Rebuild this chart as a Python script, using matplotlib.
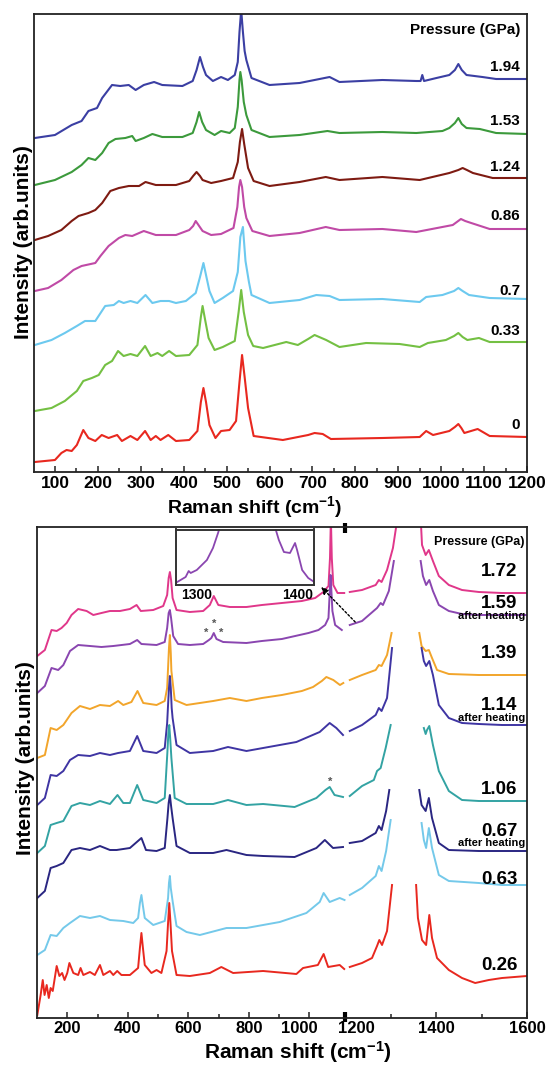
import numpy as np
import matplotlib
matplotlib.use("Agg")
import matplotlib.pyplot as plt
from matplotlib.ticker import FixedLocator
import matplotlib.transforms as mtrans

plt.rcParams['font.family'] = ['Liberation Sans', 'DejaVu Sans']
plt.rcParams['font.weight'] = 'bold'
plt.rcParams['axes.labelweight'] = 'bold'
plt.rcParams['mathtext.fontset'] = 'custom'
plt.rcParams['mathtext.rm'] = 'Liberation Sans:bold'
plt.rcParams['mathtext.bf'] = 'Liberation Sans:bold'
plt.rcParams['mathtext.it'] = 'Liberation Sans:bold'
plt.rcParams['mathtext.default'] = 'bf'

# ---------------- top panel data: (Raman shift, intensity) ----------------
top_194 = [(53,334),(100,337),(139,347),(162,351),(178,361),(198,364),(210,374),(233,387),(252,386),(272,387),(288,382),(307,387),(331,390),(350,387),(397,386),(421,391),(430,402),(438,415),(445,405),(452,397),(468,391),(487,395),(503,392),(519,397),(526,410),(530,440),(534,462),(538,440),(542,421),(546,412),(558,394),(600,387),(670,389),(740,395),(763,390),(863,392),(942,391),(952,391),(956,397),(960,391),(989,394),(1019,397),(1032,402),(1040,408),(1048,402),(1059,397),(1096,395),(1128,393),(1200,393)]
top_153 = [(53,287),(100,292),(139,300),(162,307),(178,314),(194,312),(210,319),(225,329),(241,333),(264,334),(280,336),(288,331),(307,334),(327,338),(350,335),(397,335),(421,339),(430,350),(436,360),(443,350),(452,342),(472,337),(487,341),(507,339),(519,344),(526,365),(530,392),(532,400),(535,392),(540,370),(546,357),(558,342),(600,335),(670,337),(735,341),(763,339),(863,340),(942,339),(1003,341),(1019,344),(1032,349),(1040,354),(1048,348),(1059,344),(1090,343),(1128,339),(1200,338)]
top_124 = [(53,232),(84,236),(115,242),(139,251),(155,256),(178,259),(194,262),(210,269),(229,281),(249,284),(272,286),(296,286),(311,290),(335,287),(382,287),(413,291),(422,296),(430,300),(438,296),(444,292),(464,289),(487,291),(515,294),(526,310),(531,330),(536,343),(541,328),(550,304),(563,291),(600,286),(670,290),(731,295),(763,292),(863,295),(950,292),(1019,299),(1040,302),(1050,304),(1060,302),(1074,299),(1120,294),(1200,294)]
top_086 = [(53,181),(84,184),(115,192),(143,202),(162,206),(194,209),(206,216),(225,226),(249,234),(264,237),(280,236),(307,241),(335,237),(382,237),(413,242),(422,246),(428,251),(436,246),(444,241),(464,237),(487,238),(516,244),(525,265),(529,285),(532,292),(536,285),(541,265),(546,254),(560,241),(600,236),(670,239),(731,245),(763,242),(863,243),(942,240),(1027,247),(1046,253),(1056,251),(1070,249),(1113,243),(1200,243)]
top_070 = [(53,127),(92,132),(123,139),(151,146),(170,151),(194,151),(217,166),(237,167),(249,171),(260,169),(276,171),(292,169),(311,177),(327,169),(346,171),(366,171),(382,169),(405,171),(428,179),(438,195),(446,209),(453,195),(460,181),(472,169),(491,174),(515,181),(526,200),(532,235),(538,245),(544,211),(552,190),(558,177),(600,169),(670,172),(709,177),(740,176),(763,172),(863,173),(950,170),(965,175),(1003,177),(1030,181),(1040,184),(1050,181),(1065,177),(1113,174),(1200,173)]
top_033 = [(53,61),(92,64),(123,71),(151,81),(166,91),(186,94),(202,97),(217,107),(233,111),(247,121),(260,116),(276,118),(292,116),(310,126),(323,116),(339,119),(350,116),(366,121),(382,116),(413,117),(432,127),(440,155),(444,166),(450,152),(458,134),(472,122),(491,125),(519,131),(528,160),(534,182),(540,160),(550,137),(562,126),(585,124),(639,130),(666,127),(690,133),(705,137),(732,132),(763,125),(825,129),(903,128),(950,125),(969,129),(1011,132),(1030,136),(1040,139),(1050,135),(1061,132),(1088,134),(1113,130),(1200,130)]
top_000 = [(53,10),(100,12),(115,19),(127,22),(139,21),(151,27),(166,42),(178,34),(194,31),(209,37),(225,34),(245,37),(256,31),(276,36),(292,32),(310,41),(323,32),(335,36),(346,32),(364,37),(382,31),(413,32),(432,41),(440,70),(446,84),(452,70),(460,47),(474,34),(487,41),(507,42),(522,51),(530,90),(536,117),(542,95),(550,64),(563,36),(631,32),(690,37),(705,39),(724,38),(743,33),(863,34),(950,35),(965,41),(981,37),(1019,41),(1032,45),(1040,48),(1047,44),(1054,39),(1085,43),(1113,36),(1200,35)]

top_series = [top_194, top_153, top_124, top_086, top_070, top_033, top_000]
top_labels = ['1.94', '1.53', '1.24', '0.86', '0.7', '0.33', '0']
top_label_y = [405, 351, 305, 256, 181, 141, 47]
top_colors = ['#3b3fa3', '#3c9a3c', '#7e1b12', '#c04aa6', '#6cc9ef', '#74c043', '#e8281f']
top_ticks = [100, 200, 300, 400, 500, 600, 700, 800, 900, 1000, 1100, 1200]

# ---------------- bottom panel data ----------------
bot_172 = [(101,362),(126,368),(148,388),(165,387),(181,390),(198,395),(214,403),(236,409),(264,407),(286,403),(313,405),(341,407),(374,407),(407,409),(429,413),(443,407),(484,408),(517,412),(530,423),(535,440),(539,446),(543,438),(548,420),(561,408),(605,406),(649,407),(671,413),(684,422),(699,413),(737,411),(792,411),(843,413),(909,415),(975,417),(1019,420),(1046,426),(1063,432),(1068,460),(1071,500),(1074,460),(1079,433),(1093,425),(1115,425),(1210,426),(1237,428),(1267,433),(1274,438),(1280,436),(1292,448),(1305,470),(1315,500),(1366,500),(1369,473),(1377,463),(1384,468),(1393,457),(1406,442),(1428,433),(1457,428),(1494,426),(1545,425),(1600,425)]
bot_159 = [(101,325),(126,332),(148,350),(170,348),(187,353),(209,367),(236,373),(275,372),(313,371),(352,372),(407,374),(431,378),(445,374),(495,373),(522,376),(530,390),(535,405),(539,408),(543,400),(550,382),(566,374),(605,373),(649,374),(668,378),(676,380),(684,385),(693,379),(715,376),(792,375),(843,377),(909,379),(953,382),(997,385),(1030,388),(1052,393),(1063,400),(1067,425),(1070,443),(1073,425),(1076,407),(1085,393),(1107,388),(1210,393),(1237,397),(1270,410),(1278,415),(1283,413),(1296,427),(1307,457),(1366,457),(1371,442),(1378,433),(1385,438),(1393,427),(1406,413),(1428,407),(1457,404),(1494,403),(1545,403),(1600,403)]
bot_139 = [(101,260),(126,263),(145,290),(165,288),(187,293),(214,305),(242,312),(275,309),(308,313),(341,312),(368,317),(385,313),(412,316),(432,327),(451,315),(495,313),(522,317),(530,330),(533,350),(536,370),(539,383),(542,365),(544,347),(555,318),(594,313),(682,317),(737,320),(792,317),(843,320),(909,323),(975,327),(1012,331),(1041,337),(1056,341),(1079,338),(1101,333),(1112,335),(1210,338),(1237,343),(1267,348),(1274,353),(1280,352),(1292,363),(1302,385),(1363,385),(1368,372),(1377,367),(1384,368),(1391,360),(1402,348),(1428,344),(1494,343),(1545,343),(1600,343)]
bot_114 = [(101,213),(126,220),(145,243),(165,242),(187,247),(209,258),(236,263),(275,262),(308,265),(341,263),(368,265),(407,267),(431,282),(451,267),(495,265),(522,270),(530,295),(533,313),(536,330),(539,342),(542,330),(545,310),(548,300),(561,273),(605,265),(682,267),(731,271),(792,267),(847,270),(957,276),(1034,286),(1067,295),(1089,290),(1111,283),(1210,287),(1237,293),(1267,303),(1274,310),(1280,307),(1292,320),(1303,370),(1368,370),(1373,357),(1378,352),(1385,357),(1393,343),(1406,313),(1428,300),(1457,295),(1494,294),(1545,293),(1600,293)]
bot_106 = [(101,165),(126,172),(145,193),(165,195),(187,197),(214,212),(242,215),(275,213),(308,217),(341,214),(366,223),(385,215),(407,215),(431,233),(451,218),(495,215),(522,220),(531,267),(534,285),(537,293),(540,280),(544,260),(555,220),(594,214),(682,214),(731,218),(792,213),(847,214),(951,211),(1023,220),(1053,228),(1067,231),(1083,223),(1111,221),(1210,222),(1237,232),(1263,238),(1270,247),(1278,250),(1289,270),(1300,293),(1373,290),(1377,284),(1380,288),(1385,292),(1393,273),(1406,247),(1428,227),(1457,218),(1494,217),(1545,217),(1600,217)]
bot_067 = [(101,120),(126,127),(145,150),(165,152),(187,155),(214,168),(242,170),(275,168),(308,172),(341,168),(363,168),(407,170),(445,180),(460,168),(495,167),(522,170),(531,200),(535,215),(539,223),(543,212),(548,200),(561,172),(605,165),(682,165),(726,168),(792,163),(847,162),(951,161),(1023,170),(1051,178),(1078,170),(1111,171),(1210,175),(1237,177),(1267,185),(1274,192),(1280,188),(1290,207),(1297,228),(1363,228),(1368,213),(1377,207),(1384,220),(1391,200),(1406,175),(1428,168),(1494,167),(1545,167),(1600,167)]
bot_063 = [(101,63),(126,68),(145,83),(165,82),(187,90),(209,95),(242,102),(275,100),(308,102),(341,98),(385,97),(418,95),(434,100),(440,115),(445,123),(450,112),(456,100),(484,93),(522,97),(533,120),(536,135),(539,142),(542,130),(548,117),(561,92),(594,86),(638,83),(726,90),(792,90),(902,96),(990,105),(1034,116),(1047,125),(1067,116),(1100,120),(1116,118),(1210,123),(1237,130),(1267,142),(1274,152),(1280,147),(1290,167),(1300,198),(1368,195),(1373,178),(1378,170),(1384,190),(1391,170),(1406,143),(1428,137),(1494,135),(1545,133),(1600,133)]
bot_026 = [(101,3),(112,23),(119,38),(125,23),(132,33),(139,20),(145,30),(152,27),(165,52),(174,42),(183,45),(191,38),(200,45),(207,55),(220,45),(236,43),(244,50),(253,43),(275,46),(291,43),(308,53),(319,43),(341,47),(352,43),(365,47),(379,43),(407,43),(434,50),(440,70),(445,85),(450,70),(456,53),(478,45),(495,48),(511,45),(528,67),(533,95),(537,115),(541,95),(546,67),(561,43),(605,42),(671,45),(709,51),(748,45),(847,47),(957,44),(979,50),(1028,53),(1047,64),(1062,51),(1100,53),(1115,49),(1210,51),(1237,55),(1259,60),(1270,72),(1275,78),(1281,73),(1292,87),(1303,133),(1356,133),(1360,100),(1369,78),(1378,73),(1385,103),(1391,80),(1402,60),(1428,48),(1457,40),(1486,35),(1516,38),(1545,40),(1600,42)]

bot_series = [bot_172, bot_159, bot_139, bot_114, bot_106, bot_067, bot_063, bot_026]
bot_labels = ['1.72', '1.59', '1.39', '1.14', '1.06', '0.67', '0.63', '0.26']
bot_label_y = [446, 414, 364, 312, 229, 187, 138, 52]
bot_heated = [False, True, False, True, False, True, False, False]
bot_colors = ['#e0378a', '#8a46b0', '#f2a52b', '#3f35a3', '#33a3a3', '#2a2682', '#74c9ea', '#e8281f']
bot_major = [200, 400, 600, 800, 1000, 1200, 1400, 1600]
bot_minor = [300, 500, 700, 900, 1300, 1500]
bot_gaps = [(1116, 1205), (1316, 1355)]   # axis break and removed diamond line

inset_curve = [(1279,2),(1289,8),(1292,14),(1294,12),(1300,15),(1310,25),(1316,37),(1321,52),(1324,62),(1376,62),(1381,45),(1386,33),(1392,32),(1397,42),(1399,35),(1404,15),(1410,7),(1416,3)]
inset_ticks = [1300, 1400]

# ---------------- figure ----------------
W, H = 549, 1071
fig = plt.figure(figsize=(W / 100, H / 100), dpi=100)


def rect(l, t, r, b):
    return [l / W, 1 - b / H, (r - l) / W, (b - t) / H]


def style(ax, size):
    for s in ax.spines.values():
        s.set_linewidth(1.3)
        s.set_color('#222222')
    ax.set_yticks([])
    ax.tick_params(axis='x', which='both', direction='in', top=False, width=1.1,
                   labelsize=size, pad=3, color='#222222')
    ax.tick_params(axis='x', which='major', length=4)
    ax.tick_params(axis='x', which='minor', length=3)


# ---- top ----
ax1 = fig.add_axes(rect(33.5, 14, 527, 472))
for pts, c in zip(top_series, top_colors):
    x, y = zip(*pts)
    ax1.plot(x, y, color=c, lw=1.5, solid_joinstyle='round')
ax1.set_xlim(50, 1200)
ax1.set_ylim(0, 458)
style(ax1, 12.5)
ax1.set_xticks(top_ticks, [str(t) for t in top_ticks])
ax1.xaxis.set_minor_locator(FixedLocator([t + 50 for t in top_ticks[:-1]]))
for lab in ax1.get_xticklabels():
    lab.set_fontweight('bold')
ax1.set_xlabel(r'Raman shift (cm$^{-1}$)', fontsize=14, fontweight='bold')
ax1.xaxis.set_label_coords(0.449, -0.049)
tr1 = mtrans.blended_transform_factory(ax1.transAxes, ax1.transData)
ax1.text(0.986, 442, 'Pressure (GPa)', transform=tr1, ha='right', va='center', fontsize=11)
for lab, ly in zip(top_labels, top_label_y):
    ax1.text(0.986, ly, lab, transform=tr1, ha='right', va='center', fontsize=11)

# ---- bottom (broken x axis) ----
cm_knots = [0, 100, 1118, 1200, 1600, 3000]
u_knots = [-30.3, 0.0, 308.5, 308.6, 490.6, 1127.6]


def fwd(x):
    return np.interp(np.asarray(x, float), cm_knots, u_knots)


def inv(u):
    return np.interp(np.asarray(u, float), u_knots, cm_knots)


ax2 = fig.add_axes(rect(37, 527, 527, 1018))
ax2.set_xscale('function', functions=(fwd, inv))


def segments(pts):
    segs, cur = [], [pts[0]]
    for a, b in zip(pts[:-1], pts[1:]):
        if any(a[0] <= lo and b[0] >= hi for lo, hi in bot_gaps):
            segs.append(cur)
            cur = []
        cur.append(b)
    segs.append(cur)
    return segs


for pts, c in zip(bot_series, bot_colors):
    for seg in segments(pts):
        x, y = zip(*seg)
        ax2.plot(x, y, color=c, lw=1.4, solid_joinstyle='round')
ax2.set_xlim(100, 1600)
ax2.set_ylim(0, 491)
style(ax2, 12)
ax2.tick_params(axis='x', pad=2)
ax2.set_xticks(bot_major, [str(t) for t in bot_major])
ax2.xaxis.set_minor_locator(FixedLocator(bot_minor))
for lab in ax2.get_xticklabels():
    lab.set_fontweight('bold')
ax2.set_xlabel(r'Raman shift (cm$^{-1}$)', fontsize=15, fontweight='bold')
ax2.xaxis.set_label_coords(0.533, -0.043)

# nudge the two labels that sit next to the axis break
for tk in ax2.xaxis.get_major_ticks():
    dx = {1000: -10, 1200: 11}.get(int(round(tk.get_loc())), 0)
    if dx:
        tk.label1.set_transform(tk.label1.get_transform() +
                                mtrans.ScaledTranslation(dx / 100, 0, fig.dpi_scale_trans))

# break marks on the axis
trb = mtrans.blended_transform_factory(ax2.transData, ax2.transAxes)
for yy in ([0.988, 1.008], [-0.008, 0.012]):
    ax2.plot([1200, 1200], yy, transform=trb, color='black', lw=3, clip_on=False,
             solid_capstyle='butt')

tr2 = mtrans.blended_transform_factory(ax2.transAxes, ax2.transData)
ax2.text(0.994, 476, 'Pressure (GPa)', transform=tr2, ha='right', va='center', fontsize=9)
for lab, ly, hh in zip(bot_labels, bot_label_y, bot_heated):
    ax2.text(0.98, ly, lab, transform=tr2, ha='right', va='center', fontsize=13.5)
    if hh:
        ax2.text(0.997, ly - 12, 'after heating', transform=tr2, ha='right', va='center',
                 fontsize=8)

# asterisks
for sx, sy in [(660, 385), (684, 394), (709, 385), (1068, 236)]:
    ax2.text(sx, sy, '*', ha='center', va='center', fontsize=8, color='#555555')

# arrow from curve to the inset
ax2.annotate('', xy=(1039, 431), xytext=(1222, 396),
             arrowprops=dict(arrowstyle='-|>', color='black', lw=1.0, linestyle=(0, (1.5, 1.5)),
                             mutation_scale=10, shrinkA=0, shrinkB=0))

# ---- inset ----
axi = fig.add_axes(rect(175.5, 529.5, 314.3, 585))
xi, yi = zip(*inset_curve)
axi.plot(xi, yi, color=bot_colors[1], lw=1.3)
axi.set_xlim(1279, 1416)
axi.set_ylim(0, 55.5)
axi.set_yticks([])
axi.set_xticks(inset_ticks, [str(t) for t in inset_ticks])
axi.tick_params(axis='x', length=0, labelsize=10, pad=2)
for lab in axi.get_xticklabels():
    lab.set_fontweight('bold')
for s in axi.spines.values():
    s.set_linewidth(1.4)
    s.set_color('#333333')

# y labels
fig.text(24 / W, 1 - 242 / H, 'Intensity (arb.units)', rotation=90, ha='center', va='center',
         fontsize=15, fontweight='bold')
fig.text(26 / W, 1 - 758 / H, 'Intensity (arb.units)', rotation=90, ha='center', va='center',
         fontsize=15, fontweight='bold')

fig.savefig('out.png', dpi=100)
